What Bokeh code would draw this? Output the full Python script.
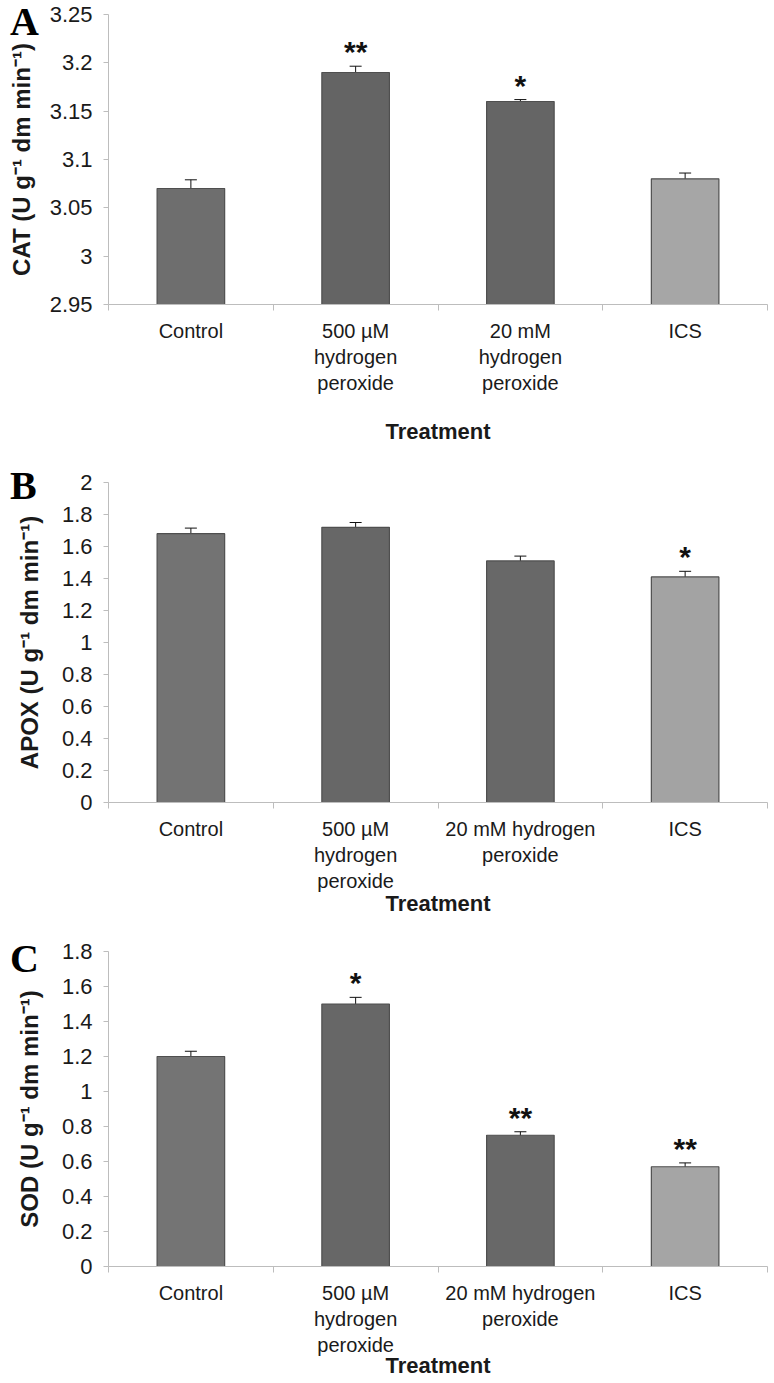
from bokeh.plotting import figure
from bokeh.models import ColumnDataSource, Whisker, TeeHead, FixedTicker, Range1d, Div
from bokeh.layouts import column
from bokeh.embed import file_html
from bokeh.resources import INLINE

# ---------------- data ----------------
labels_A = ["Control", "500 µM\nhydrogen\nperoxide", "20 mM\nhydrogen\nperoxide", "ICS"]
labels_BC = ["Control", "500 µM\nhydrogen\nperoxide", "20 mM hydrogen\nperoxide", "ICS"]

cat_values = [3.07, 3.19, 3.16, 3.08]
cat_err = [0.009, 0.0065, 0.002, 0.006]
cat_sig = ["", "**", "*", ""]
cat_ticks = [2.95, 3.0, 3.05, 3.1, 3.15, 3.2, 3.25]
cat_tick_labels = ["2.95", "3", "3.05", "3.1", "3.15", "3.2", "3.25"]

apox_values = [1.68, 1.72, 1.51, 1.41]
apox_err = [0.035, 0.03, 0.03, 0.035]
apox_sig = ["", "", "", "*"]
apox_ticks = [0, 0.2, 0.4, 0.6, 0.8, 1.0, 1.2, 1.4, 1.6, 1.8, 2.0]
apox_tick_labels = ["0", "0.2", "0.4", "0.6", "0.8", "1", "1.2", "1.4", "1.6", "1.8", "2"]

sod_values = [1.20, 1.50, 0.75, 0.57]
sod_err = [0.03, 0.038, 0.02, 0.022]
sod_sig = ["", "*", "**", "**"]
sod_ticks = [0, 0.2, 0.4, 0.6, 0.8, 1.0, 1.2, 1.4, 1.6, 1.8]
sod_tick_labels = ["0", "0.2", "0.4", "0.6", "0.8", "1", "1.2", "1.4", "1.6", "1.8"]

colors_A = ["#6e6e6e", "#646464", "#656565", "#a6a6a6"]
colors_B = ["#737373", "#676767", "#686868", "#a3a3a3"]
colors_C = ["#747474", "#676767", "#686868", "#a5a5a5"]

AXIS_COLOR = "#bdbdbd"
FONT = "Liberation Sans"


def panel(labels, values, errs, sigs, ticks, tick_labels, colors, ylabel,
          width, height, left, top, bottom_border, xlabel_standoff, ylabel_standoff):
    n = len(values)
    xs = [i + 0.5 for i in range(n)]
    y0, y1 = ticks[0], ticks[-1]
    p = figure(width=width, height=height, output_backend="svg", toolbar_location=None,
               x_range=Range1d(0, n), y_range=Range1d(y0, y1),
               min_border_left=left, min_border_right=3, min_border_top=top,
               min_border_bottom=bottom_border)
    p.outline_line_color = None
    p.xgrid.grid_line_color = None
    p.ygrid.grid_line_color = None
    p.background_fill_color = "white"
    p.border_fill_color = "white"

    src = ColumnDataSource(dict(
        x=xs, top=values, color=colors,
        upper=[v + e for v, e in zip(values, errs)],
        lower=[v - e for v, e in zip(values, errs)],
        sig=sigs))

    p.vbar(x="x", top="top", bottom=y0, width=0.41, source=src,
           fill_color="color", line_color="#4f4f4f", line_width=1.2)
    w = Whisker(base="x", upper="upper", lower="lower", source=src, dimension="height",
                line_color="#111111", line_width=1,
                upper_head=TeeHead(size=12, line_color="#111111", line_width=1),
                lower_head=TeeHead(size=12, line_color="#111111", line_width=1))
    p.add_layout(w)
    p.text(x="x", y="upper", text="sig", source=src, text_align="center",
           text_baseline="bottom", text_font_size="30px", text_font_style="bold",
           text_color="#111111", y_offset=2)

    # x axis: labels at bar centres, tick marks between categories
    xa = p.xaxis[0]
    xa.ticker = FixedTicker(ticks=xs, minor_ticks=list(range(n + 1)))
    xa.major_label_overrides = {x: l for x, l in zip(xs, labels)}
    xa.major_tick_line_color = None
    xa.major_tick_out = 0
    xa.major_tick_in = 0
    xa.minor_tick_out = 6
    xa.minor_tick_in = 0
    xa.minor_tick_line_color = AXIS_COLOR
    xa.axis_line_color = AXIS_COLOR
    xa.major_label_text_font = FONT
    xa.major_label_text_font_size = "20px"
    xa.major_label_text_line_height = 1.2
    xa.major_label_text_color = "#1a1a1a"
    xa.major_label_standoff = 9
    xa.axis_label = "Treatment"
    xa.axis_label_text_font = FONT
    xa.axis_label_text_font_size = "22px"
    xa.axis_label_text_font_style = "bold"
    xa.axis_label_text_color = "#1a1a1a"
    xa.axis_label_standoff = xlabel_standoff

    # y axis
    ya = p.yaxis[0]
    ya.ticker = FixedTicker(ticks=ticks)
    ya.major_label_overrides = {t: l for t, l in zip(ticks, tick_labels)}
    ya.minor_tick_line_color = None
    ya.major_tick_out = 5
    ya.major_tick_in = 0
    ya.major_tick_line_color = AXIS_COLOR
    ya.axis_line_color = AXIS_COLOR
    ya.major_label_text_font = FONT
    ya.major_label_text_font_size = "22px"
    ya.major_label_text_color = "#1a1a1a"
    ya.major_label_standoff = 11
    ya.axis_label = ylabel
    ya.axis_label_text_font = FONT
    ya.axis_label_text_font_size = "24px"
    ya.axis_label_text_font_style = "bold"
    ya.axis_label_text_color = "#1a1a1a"
    ya.axis_label_standoff = ylabel_standoff
    return p


def letter_div(letter, shift_up, track_h=44):
    # zero-height layout slot; the letter is lifted over the panel above it
    return Div(text=letter, width=40, height=track_h,
               margin=(-shift_up, 0, shift_up - track_h, 10),
               styles={"position": "relative", "z-index": "10",
                       "font-family": "Liberation Serif", "font-weight": "bold",
                       "font-size": "40px", "line-height": "40px", "color": "black"})


# frames: A 14..304, B 482..802, C 951..1266
pA = panel(labels_A, cat_values, cat_err, cat_sig, cat_ticks, cat_tick_labels, colors_A,
           "CAT (U g⁻¹ dm min⁻¹)", 770, 447, 108, 14, 143, 22, 12)
pB = panel(labels_BC, apox_values, apox_err, apox_sig, apox_ticks, apox_tick_labels, colors_B,
           "APOX (U g⁻¹ dm min⁻¹)", 770, 473, 99, 35, 118, -4, 16)
pC = panel(labels_BC, sod_values, sod_err, sod_sig, sod_ticks, sod_tick_labels, colors_C,
           "SOD (U g⁻¹ dm min⁻¹)", 770, 462, 99, 31, 116, -6, 16)

dA = letter_div("A", 445)
dB = letter_div("B", 454)
dC = letter_div("C", 443)

layout = column(pA, dA, pB, dB, pC, dC, spacing=0)
open("out.html", "w").write(file_html(layout, INLINE))
